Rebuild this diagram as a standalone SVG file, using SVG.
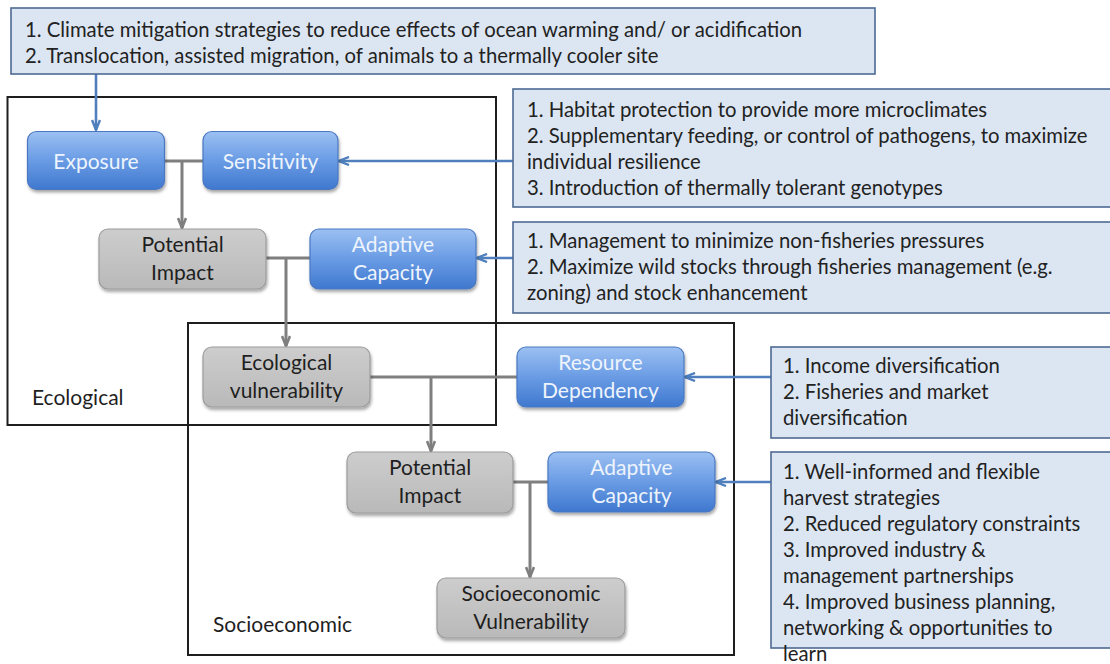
<svg xmlns="http://www.w3.org/2000/svg" width="1110" height="664" viewBox="0 0 1110 664">
  <defs>
    <linearGradient id="gBlue" x1="0" y1="0" x2="0" y2="1">
      <stop offset="0" stop-color="#9cc0f2"/>
      <stop offset="0.45" stop-color="#6e9fe6"/>
      <stop offset="1" stop-color="#3f78cf"/>
    </linearGradient>
    <linearGradient id="gGray" x1="0" y1="0" x2="0" y2="1">
      <stop offset="0" stop-color="#cdcdcd"/>
      <stop offset="1" stop-color="#b9b9b9"/>
    </linearGradient>
    <filter id="shadow" x="-10%" y="-10%" width="130%" height="140%">
      <feDropShadow dx="1" dy="2.5" stdDeviation="1.8" flood-color="#000" flood-opacity="0.35"/>
    </filter>
    <marker id="arrGray" viewBox="0 0 12 10" refX="11" refY="5" markerWidth="12" markerHeight="10" markerUnits="userSpaceOnUse" orient="auto">
      <path d="M1,1 L11,5 L1,9" fill="none" stroke="#7f7f7f" stroke-width="2.6"/>
    </marker>
    <marker id="arrBlue" viewBox="0 0 12 10" refX="11" refY="5" markerWidth="12" markerHeight="10" markerUnits="userSpaceOnUse" orient="auto">
      <path d="M1,1 L11,5 L1,9" fill="none" stroke="#4f7fbd" stroke-width="2.4"/>
    </marker>
  </defs>
  <style>
    text { font-family: Lato, "Liberation Sans", sans-serif; font-size: 21px; }
    .frame { fill: none; stroke: #1e1e1e; stroke-width: 2; }
    .note rect { fill: #dce6f2; stroke: #4e6a92; stroke-width: 1.6; }
    .note text { fill: #222; font-size: 20.3px; }
    .blue rect { fill: url(#gBlue); stroke: #4a78c0; stroke-width: 1.2; filter: url(#shadow); }
    .blue text { fill: #eef4fc; text-anchor: middle; }
    .gray rect { fill: url(#gGray); stroke: #9c9c9c; stroke-width: 1.2; filter: url(#shadow); }
    .gray text { fill: #1f1f1f; text-anchor: middle; }
    .label { fill: #1f1f1f; }
    .cg { fill: none; stroke: #7f7f7f; stroke-width: 3; }
    .cb { fill: none; stroke: #4f7fbd; stroke-width: 2.6; }
  </style>

  <rect x="0" y="0" width="1110" height="664" fill="#ffffff"/>

  <!-- grouping frames -->
  <g id="frame-ecological">
    <rect class="frame" x="7.5" y="97" width="488.5" height="328"/>
    <text class="label" x="32" y="405">Ecological</text>
  </g>
  <g id="frame-socioeconomic">
    <rect class="frame" x="188" y="323" width="546" height="332"/>
    <text class="label" x="213" y="632">Socioeconomic</text>
  </g>

  <!-- connectors -->
  <g id="connectors">
    <path class="cb" d="M96,74 V130" marker-end="url(#arrBlue)"/>
    <path class="cg" d="M164,161 H203"/>
    <path class="cg" d="M182,161 V228" marker-end="url(#arrGray)"/>
    <path class="cb" d="M513,161 H339" marker-end="url(#arrBlue)"/>
    <path class="cg" d="M266,258 H310"/>
    <path class="cg" d="M286,258 V346" marker-end="url(#arrGray)"/>
    <path class="cb" d="M513,258 H477" marker-end="url(#arrBlue)"/>
    <path class="cg" d="M370,377 H517"/>
    <path class="cg" d="M431,377 V451" marker-end="url(#arrGray)"/>
    <path class="cb" d="M771,377 H685" marker-end="url(#arrBlue)"/>
    <path class="cg" d="M513,482 H548"/>
    <path class="cg" d="M530,482 V577" marker-end="url(#arrGray)"/>
    <path class="cb" d="M771,482 H716" marker-end="url(#arrBlue)"/>
  </g>

  <!-- strategy notes -->
  <g id="note-top" class="note">
    <rect x="11" y="8" width="864" height="66"/>
    <text x="25" y="37">1. Climate mitigation strategies to reduce effects of ocean warming and/ or acidification</text>
    <text x="25" y="63">2. Translocation, assisted migration, of animals to a thermally cooler site</text>
  </g>
  <g id="note-sensitivity" class="note">
    <rect x="513" y="89" width="600" height="118"/>
    <text x="527" y="117">1. Habitat protection to provide more microclimates</text>
    <text x="527" y="143">2. Supplementary feeding, or control of pathogens, to maximize</text>
    <text x="527" y="169">individual resilience</text>
    <text x="527" y="195">3. Introduction of thermally tolerant genotypes</text>
  </g>
  <g id="note-adaptive-eco" class="note">
    <rect x="513" y="222" width="600" height="91"/>
    <text x="527" y="248">1. Management to minimize non-fisheries pressures</text>
    <text x="527" y="274">2. Maximize wild stocks through fisheries management (e.g.</text>
    <text x="527" y="300">zoning) and stock enhancement</text>
  </g>
  <g id="note-resource" class="note">
    <rect x="771" y="347" width="342" height="91"/>
    <text x="783" y="373">1. Income diversification</text>
    <text x="783" y="399">2. Fisheries and market</text>
    <text x="783" y="425">diversification</text>
  </g>
  <g id="note-adaptive-socio" class="note">
    <rect x="771" y="452" width="342" height="196"/>
    <text x="783" y="479">1. Well-informed and flexible</text>
    <text x="783" y="505">harvest strategies</text>
    <text x="783" y="531">2. Reduced regulatory constraints</text>
    <text x="783" y="557">3. Improved industry &amp;</text>
    <text x="783" y="583">management partnerships</text>
    <text x="783" y="609">4. Improved business planning,</text>
    <text x="783" y="635">networking &amp; opportunities to</text>
    <text x="783" y="661">learn</text>
  </g>

  <!-- ecological nodes -->
  <g id="exposure" class="blue">
    <rect x="27.5" y="131.5" width="137" height="58" rx="9"/>
    <text x="96" y="169">Exposure</text>
  </g>
  <g id="sensitivity" class="blue">
    <rect x="203" y="131.5" width="135" height="58" rx="9"/>
    <text x="270.5" y="169">Sensitivity</text>
  </g>
  <g id="potential-impact-eco" class="gray">
    <rect x="99" y="229" width="167" height="60" rx="9"/>
    <text x="182.5" y="252">Potential</text>
    <text x="182.5" y="280">Impact</text>
  </g>
  <g id="adaptive-capacity-eco" class="blue">
    <rect x="310" y="229" width="166" height="60" rx="9"/>
    <text x="393" y="252">Adaptive</text>
    <text x="393" y="280">Capacity</text>
  </g>
  <g id="ecological-vulnerability" class="gray">
    <rect x="203" y="347" width="167" height="60" rx="9"/>
    <text x="286.5" y="370">Ecological</text>
    <text x="286.5" y="398">vulnerability</text>
  </g>

  <!-- socioeconomic nodes -->
  <g id="resource-dependency" class="blue">
    <rect x="517" y="347" width="167" height="60" rx="9"/>
    <text x="600.5" y="370">Resource</text>
    <text x="600.5" y="398">Dependency</text>
  </g>
  <g id="potential-impact-socio" class="gray">
    <rect x="347" y="452" width="166" height="61" rx="9"/>
    <text x="430" y="475">Potential</text>
    <text x="430" y="503">Impact</text>
  </g>
  <g id="adaptive-capacity-socio" class="blue">
    <rect x="548" y="452" width="167" height="60" rx="9"/>
    <text x="631.5" y="475">Adaptive</text>
    <text x="631.5" y="503">Capacity</text>
  </g>
  <g id="socioeconomic-vulnerability" class="gray">
    <rect x="437" y="578" width="188" height="60" rx="9"/>
    <text x="531" y="601">Socioeconomic</text>
    <text x="531" y="629">Vulnerability</text>
  </g>
</svg>
